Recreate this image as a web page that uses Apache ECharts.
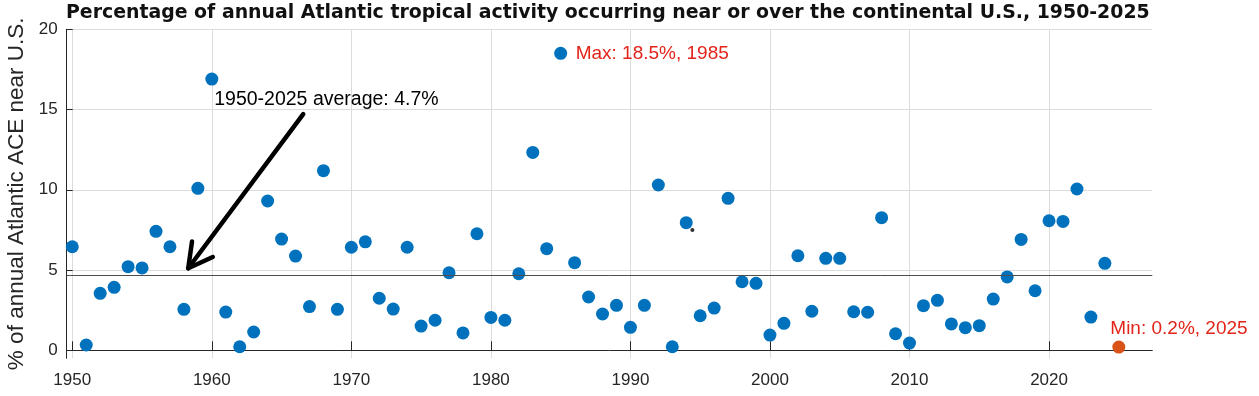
<!DOCTYPE html>
<html>
<head>
<meta charset="utf-8">
<script src="https://cdn.jsdelivr.net/npm/echarts@6/dist/echarts.min.js"></script>
<style>
  html, body { margin: 0; padding: 0; background: #fff; }
  #chart { width: 1259px; height: 396px; }
</style>
</head>
<body>
<div id="chart"></div>
<script>
// years and % of annual Atlantic ACE near the U.S.
var years = [1950, 1951, 1952, 1953, 1954, 1955, 1956, 1957, 1958, 1959,
  1960, 1961, 1962, 1963, 1964, 1965, 1966, 1967, 1968, 1969,
  1970, 1971, 1972, 1973, 1974, 1975, 1976, 1977, 1978, 1979,
  1980, 1981, 1982, 1983, 1984, 1985, 1986, 1987, 1988, 1989,
  1990, 1991, 1992, 1993, 1994, 1995, 1996, 1997, 1998, 1999,
  2000, 2001, 2002, 2003, 2004, 2005, 2006, 2007, 2008, 2009,
  2010, 2011, 2012, 2013, 2014, 2015, 2016, 2017, 2018, 2019,
  2020, 2021, 2022, 2023, 2024, 2025];
var pctNearUS = [6.45, 0.33, 3.55, 3.92, 5.21, 5.13, 7.41, 6.45, 2.55, 10.09,
  16.9, 2.38, 0.22, 1.14, 9.3, 6.93, 5.87, 2.72, 11.19, 2.55,
  6.42, 6.76, 3.24, 2.57, 6.42, 1.51, 1.87, 4.83, 1.08, 7.26,
  2.05, 1.87, 4.77, 12.33, 6.33, 18.5, 5.46, 3.32, 2.26, 2.8,
  1.43, 2.8, 10.3, 0.22, 7.95, 2.15, 2.63, 9.47, 4.27, 4.17,
  0.95, 1.68, 5.89, 2.43, 5.73, 5.73, 2.4, 2.37, 8.26, 1.03,
  0.45, 2.78, 3.11, 1.64, 1.41, 1.53, 3.19, 4.57, 6.91, 3.71,
  8.07, 8.03, 10.05, 2.07, 5.42, 0.2];
var avgPct = 4.7;
var maxYear = 1985, maxPct = 18.5;
var minYear = 2025, minPct = 0.2;
var xTicks = [1950, 1960, 1970, 1980, 1990, 2000, 2010, 2020];
var yTicks = [0, 5, 10, 15, 20];
// arrow pointing at the average line: [tailX, tailY, tipX, tipY]
var arrow = [1966.55, 14.72, 1958.31, 5.11];
var arrowText = '1950-2025 average: 4.7%';
var strayDot = [1994.44, 7.49];

var FONT = 'Liberation Sans, Arial, Helvetica, sans-serif';

// points except the minimum year, which is drawn in orange
var mainPts = [];
years.forEach(function (y, i) {
  if (y !== minYear) mainPts.push([y, pctNearUS[i]]);
});

var chart = echarts.init(document.getElementById('chart'));
chart.setOption({
  animation: false,
  textStyle: { fontFamily: FONT },
  title: {
    text: 'Percentage of annual Atlantic tropical activity occurring near or over the continental U.S., 1950-2025',
    left: 66, top: 4, padding: 0,
    textStyle: { fontSize: 18.9, fontWeight: 'bold', color: '#111', fontFamily: 'DejaVu Sans' }
  },
  grid: { left: 66.7, right: 106.7, top: 29.3, bottom: 37.7, outerBoundsMode: 'none', containLabel: false },
  xAxis: {
    type: 'value', min: 1949.6, max: 2027.4,
    axisLine: { show: true, lineStyle: { color: '#262626', width: 1 } },
    axisTick: { show: true, inside: true, length: 9, customValues: xTicks, lineStyle: { color: '#262626' } },
    axisLabel: { customValues: xTicks, fontSize: 17, color: '#262626', margin: 14, fontFamily: FONT,
      formatter: function (v) { return String(v); } },
    splitLine: { show: true, lineStyle: { color: '#dcdcdc', width: 1 } }
  },
  yAxis: {
    type: 'value', min: -0.5, max: 20,
    name: '% of annual Atlantic ACE near U.S.',
    nameLocation: 'middle', nameGap: 38,
    nameTextStyle: { fontSize: 22.5, color: '#262626', fontFamily: FONT },
    axisLine: { show: true, lineStyle: { color: '#262626', width: 1 } },
    axisTick: { show: true, inside: true, length: 6, customValues: yTicks, lineStyle: { color: '#262626' } },
    axisLabel: { customValues: yTicks, fontSize: 17, color: '#262626', margin: 9, fontFamily: FONT },
    splitLine: { show: true, lineStyle: { color: '#dcdcdc', width: 1 } }
  },
  series: [
    {
      type: 'scatter', data: mainPts, symbolSize: 13,
      itemStyle: { color: '#0072BD', opacity: 1 },
      markLine: {
        silent: true, symbol: 'none', label: { show: false },
        lineStyle: { color: '#4d4d4d', width: 1, type: 'solid' },
        data: [{ yAxis: avgPct }]
      },
      markPoint: {
        symbol: 'circle', symbolSize: 0,
        data: [{
          coord: [maxYear, maxPct],
          label: {
            show: true, position: 'right', distance: 15, formatter: 'Max: 18.5%, 1985',
            color: '#e3241a', fontSize: 19, fontFamily: FONT
          }
        }]
      }
    },
    {
      type: 'scatter', data: [[minYear, minPct]], symbolSize: 13,
      itemStyle: { color: '#D95319', opacity: 1 },
      label: {
        show: true, position: [-2, -21], formatter: 'Min: 0.2%, 2025',
        color: '#e3241a', fontSize: 19, fontFamily: FONT
      }
    },
    {
      type: 'scatter', data: [strayDot], symbolSize: 4,
      itemStyle: { color: '#000' }
    },
    {
      type: 'custom', data: [arrow], clip: false, silent: true,
      renderItem: function (params, api) {
        var tail = api.coord([api.value(0), api.value(1)]);
        var tip = api.coord([api.value(2), api.value(3)]);
        var dx = tail[0] - tip[0], dy = tail[1] - tip[1];
        var len = Math.sqrt(dx * dx + dy * dy);
        var ux = dx / len, uy = dy / len;
        var L = 27, a = 0.5;
        function arm(t) {
          return [tip[0] + L * (ux * Math.cos(t) - uy * Math.sin(t)),
                  tip[1] + L * (ux * Math.sin(t) + uy * Math.cos(t))];
        }
        return {
          type: 'group',
          children: [
            { type: 'line', shape: { x1: tail[0], y1: tail[1], x2: tip[0], y2: tip[1] },
              style: { stroke: '#000', lineWidth: 4.5, lineCap: 'round' } },
            { type: 'polyline', shape: { points: [arm(a), tip, arm(-a)] },
              style: { stroke: '#000', lineWidth: 4.5, fill: null, lineJoin: 'round', lineCap: 'round' } },
            { type: 'text', x: tail[0] - 89, y: tail[1] - 14,
              style: { text: arrowText, fontSize: 19.5, fill: '#000', fontFamily: FONT,
                       verticalAlign: 'middle', align: 'left' } }
          ]
        };
      }
    }
  ]
});
</script>
</body>
</html>
